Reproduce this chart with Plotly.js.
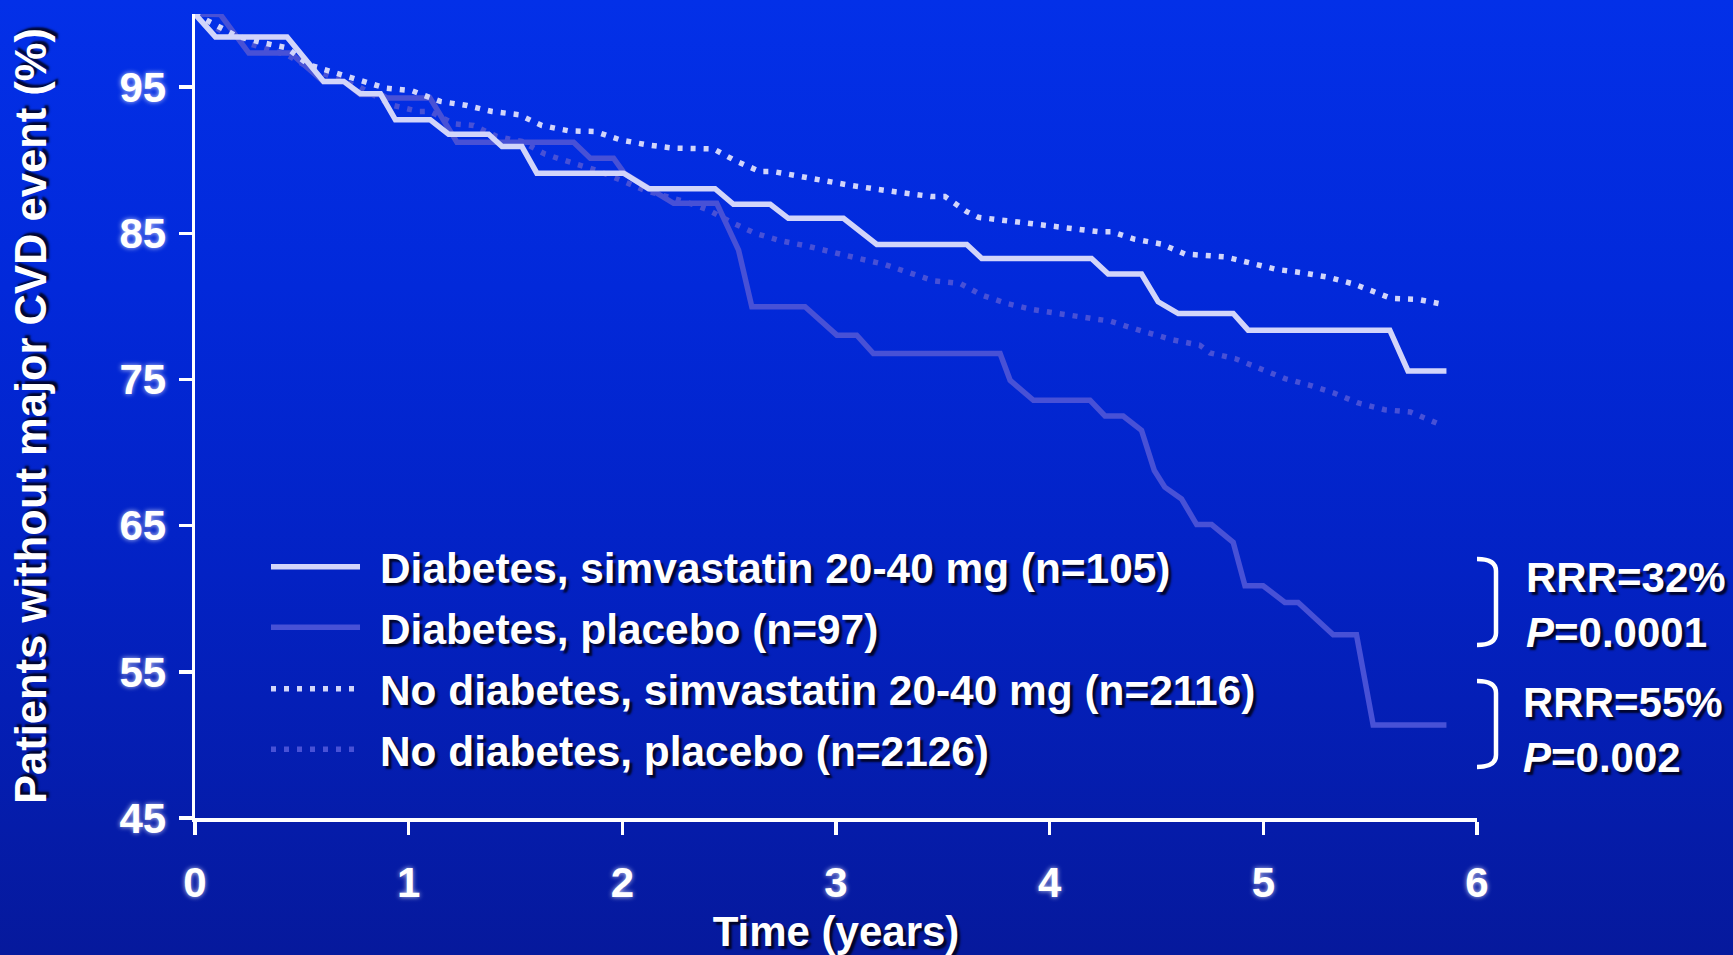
<!DOCTYPE html>
<html>
<head>
<meta charset="utf-8">
<script src="https://cdn.plot.ly/plotly-3.0.1.min.js"></script>
<style>
  html, body { margin: 0; padding: 0; }
  body {
    width: 1733px; height: 955px; overflow: hidden;
    background: linear-gradient(to bottom, #0330e8 0%, #0229da 30%, #0322c4 60%, #06199c 100%);
  }
  #chart { width: 1733px; height: 955px; }
</style>
</head>
<body>
<div id="chart"></div>
<script>
// ---- Data ----
const seriesNames = [
  "Diabetes, simvastatin 20-40 mg (n=105)",
  "Diabetes, placebo (n=97)",
  "No diabetes, simvastatin 20-40 mg (n=2116)",
  "No diabetes, placebo (n=2126)"
];

const diabSimvX = [0, 0.096, 0.431, 0.602, 0.696, 0.774, 0.868, 0.938, 1.101, 1.187, 1.374, 1.437, 1.53, 1.6, 2.006, 2.123, 2.434, 2.52, 2.692, 2.777, 3.035, 3.191, 3.612, 3.682, 4.196, 4.274, 4.43, 4.508, 4.602, 4.859, 4.929, 5.592, 5.677, 5.857];
const diabSimvY = [100, 98.43, 98.43, 95.39, 95.39, 94.54, 94.54, 92.76, 92.76, 91.78, 91.78, 90.93, 90.93, 89.11, 89.11, 88.05, 88.05, 86.98, 86.98, 86.02, 86.02, 84.24, 84.24, 83.28, 83.28, 82.21, 82.21, 80.31, 79.51, 79.51, 78.37, 78.37, 75.58, 75.58];

const diabPlacX = [0, 0.119, 0.252, 0.447, 0.6, 0.696, 0.774, 0.87, 0.9, 1.1, 1.226, 1.772, 1.85, 1.959, 2.01, 2.12, 2.24, 2.442, 2.544, 2.606, 2.855, 3.004, 3.097, 3.175, 3.768, 3.815, 3.924, 4.189, 4.259, 4.344, 4.43, 4.49, 4.539, 4.617, 4.688, 4.758, 4.859, 4.914, 4.999, 5.101, 5.163, 5.327, 5.436, 5.514, 5.857];
const diabPlacY = [100, 99.96, 97.33, 97.33, 95.39, 95.39, 94.5, 94.5, 94.25, 94.25, 91.23, 91.23, 90.14, 90.14, 89.1, 88.08, 87.05, 87.05, 83.85, 79.97, 79.97, 78.03, 78.03, 76.77, 76.77, 74.94, 73.57, 73.57, 72.5, 72.5, 71.52, 68.77, 67.63, 66.83, 65.07, 65.07, 63.86, 60.89, 60.89, 59.75, 59.75, 57.53, 57.53, 51.36, 51.36];

const noDiabSimvX = [0, 0.08, 0.197, 0.322, 0.431, 0.532, 0.649, 0.766, 0.891, 1.016, 1.148, 1.273, 1.39, 1.515, 1.624, 1.748, 1.873, 1.99, 2.115, 2.24, 2.427, 2.528, 2.645, 2.707, 2.887, 3.074, 3.261, 3.448, 3.51, 3.612, 3.667, 3.853, 4.04, 4.227, 4.29, 4.399, 4.524, 4.578, 4.633, 4.82, 4.937, 5.062, 5.183, 5.308, 5.425, 5.542, 5.6, 5.725, 5.82];
const noDiabSimvY = [100, 99.39, 98.47, 98.02, 97.68, 96.53, 96.03, 95.44, 94.93, 94.75, 94.02, 93.74, 93.33, 93.11, 92.37, 92.01, 91.96, 91.39, 91.05, 90.82, 90.77, 89.97, 89.22, 89.22, 88.72, 88.26, 87.87, 87.51, 87.51, 86.48, 86.09, 85.79, 85.45, 85.11, 85.11, 84.59, 84.26, 83.97, 83.58, 83.39, 83.01, 82.53, 82.3, 81.98, 81.52, 80.88, 80.54, 80.47, 80.2];

const noDiabPlacX = [0, 0.08, 0.2, 0.32, 0.43, 0.55, 0.66, 0.77, 0.914, 1.047, 1.101, 1.211, 1.304, 1.413, 1.53, 1.639, 1.756, 1.873, 1.99, 2.1, 2.224, 2.286, 2.403, 2.505, 2.622, 2.739, 2.863, 2.988, 3.105, 3.222, 3.339, 3.456, 3.581, 3.682, 3.799, 3.916, 4.04, 4.165, 4.282, 4.407, 4.524, 4.578, 4.703, 4.75, 4.867, 4.984, 5.101, 5.218, 5.331, 5.444, 5.568, 5.688, 5.83];
const noDiabPlacY = [100, 99.2, 98.2, 97.7, 97.2, 96.2, 95.6, 95.0, 93.79, 93.33, 93.33, 92.49, 92.37, 91.62, 91.28, 90.41, 89.86, 89.34, 88.65, 87.96, 87.44, 87.2, 86.59, 85.79, 85.0, 84.49, 84.13, 83.74, 83.28, 82.89, 82.32, 81.75, 81.57, 80.77, 80.2, 79.79, 79.51, 79.24, 78.99, 78.42, 77.96, 77.7, 77.34, 76.81, 76.43, 75.74, 75.06, 74.6, 74.07, 73.39, 72.93, 72.77, 71.9];

const yTickVals = [45, 55, 65, 75, 85, 95];
const xTickVals = [0, 1, 2, 3, 4, 5, 6];
const rrrTexts = ["RRR=32%<br><i>P</i>=0.0001", "RRR=55%<br><i>P</i>=0.002"];

// ---- Styles ----
const LIGHT = "#d2d5fa";
const DARK = "#4851d6";
const FONT = "Liberation Sans, Arial, sans-serif";
const darkShadow = "3px 3px 2px rgba(0,0,20,0.85)";
const glow = "0px 0px 5px rgba(255,255,255,0.75)";
const dotDash = "5px,8px";

const traces = [
  {x: noDiabPlacX, y: noDiabPlacY, name: seriesNames[3], mode: "lines",
   line: {color: DARK, width: 5.5, dash: dotDash}},
  {x: diabPlacX, y: diabPlacY, name: seriesNames[1], mode: "lines",
   line: {color: DARK, width: 5.5}},
  {x: noDiabSimvX, y: noDiabSimvY, name: seriesNames[2], mode: "lines",
   line: {color: LIGHT, width: 5.5, dash: dotDash}},
  {x: diabSimvX, y: diabSimvY, name: seriesNames[0], mode: "lines",
   line: {color: LIGHT, width: 5.5}}
];

// plot area geometry (px)
const W = 1733, H = 955;
const mL = 195, mR = 256, mT = 14, mB = 137;
const pw = W - mL - mR, ph = H - mT - mB;
const px = v => (v - mL) / pw;
const py = v => (H - mB - v) / ph;

// manual legend
const legendRows = [566.7, 627.3, 688.7, 749.3];
const legendOrder = [
  {name: seriesNames[0], color: LIGHT, dash: "solid"},
  {name: seriesNames[1], color: DARK, dash: "solid"},
  {name: seriesNames[2], color: LIGHT, dash: dotDash},
  {name: seriesNames[3], color: DARK, dash: dotDash}
];
const shapes = [];
const annotations = [];
legendOrder.forEach((it, i) => {
  shapes.push({type: "line", xref: "paper", yref: "paper",
    x0: px(271), x1: px(360), y0: py(legendRows[i]), y1: py(legendRows[i]),
    line: {color: it.color, width: 5.5, dash: it.dash}});
  annotations.push({xref: "paper", yref: "paper", x: px(378), y: py(legendRows[i] + 2),
    xanchor: "left", yanchor: "middle", showarrow: false, text: it.name,
    font: {family: FONT, size: 42.4, color: "#ffffff", weight: 700, shadow: darkShadow}});
});

// brackets
function bracket(top, bot) {
  const xl = px(1477), xr = px(1496), r = 12;
  const yt = py(top), yb = py(bot);
  const ryT = r / ph;
  return "M" + xl + "," + yt +
    " Q" + xr + "," + yt + " " + xr + "," + (yt - ryT) +
    " L" + xr + "," + (yb + ryT) +
    " Q" + xr + "," + yb + " " + xl + "," + yb;
}
shapes.push({type: "path", xref: "paper", yref: "paper", path: bracket(559, 645),
  line: {color: "#ffffff", width: 4.5}});
shapes.push({type: "path", xref: "paper", yref: "paper", path: bracket(681, 767),
  line: {color: "#ffffff", width: 4.5}});

annotations.push({xref: "paper", yref: "paper", x: px(1524), y: py(605),
  xanchor: "left", yanchor: "middle", showarrow: false, align: "left", text: rrrTexts[0],
  font: {family: FONT, size: 42, color: "#ffffff", weight: 700, shadow: darkShadow}});
annotations.push({xref: "paper", yref: "paper", x: px(1521), y: py(730),
  xanchor: "left", yanchor: "middle", showarrow: false, align: "left", text: rrrTexts[1],
  font: {family: FONT, size: 42, color: "#ffffff", weight: 700, shadow: darkShadow}});

const layout = {
  width: W, height: H,
  margin: {l: mL, r: mR, t: mT, b: mB, pad: 0},
  paper_bgcolor: "rgba(0,0,0,0)",
  plot_bgcolor: "rgba(0,0,0,0)",
  showlegend: false,
  font: {family: FONT, color: "#ffffff"},
  xaxis: {
    range: [0, 6], tickvals: xTickVals, ticktext: xTickVals.map(String),
    showgrid: false, zeroline: false, showline: true, linecolor: "#ffffff", linewidth: 3.5,
    ticks: "outside", ticklen: 13, tickwidth: 3.5, tickcolor: "#ffffff",
    ticklabelstandoff: 12,
    tickfont: {family: FONT, size: 42, color: "#ffffff", weight: 700, shadow: glow},
    title: {text: "Time (years)", standoff: 12,
      font: {family: FONT, size: 42, color: "#ffffff", weight: 700, shadow: darkShadow}},
    automargin: false, fixedrange: true
  },
  yaxis: {
    range: [45, 100], tickvals: yTickVals, ticktext: yTickVals.map(String),
    showgrid: false, zeroline: false, showline: true, linecolor: "#ffffff", linewidth: 3.5,
    ticks: "outside", ticklen: 13, tickwidth: 3.5, tickcolor: "#ffffff",
    ticklabelstandoff: 4,
    tickfont: {family: FONT, size: 42, color: "#ffffff", weight: 700, shadow: glow},
    title: {text: "\u00a0\u00a0Patients without major CVD event (%)", standoff: 60,
      font: {family: FONT, size: 43.5, color: "#ffffff", weight: 700, shadow: darkShadow}},
    automargin: false, fixedrange: true
  },
  shapes: shapes,
  annotations: annotations
};

Plotly.newPlot("chart", traces, layout, {displayModeBar: false, staticPlot: true});
</script>
</body>
</html>
